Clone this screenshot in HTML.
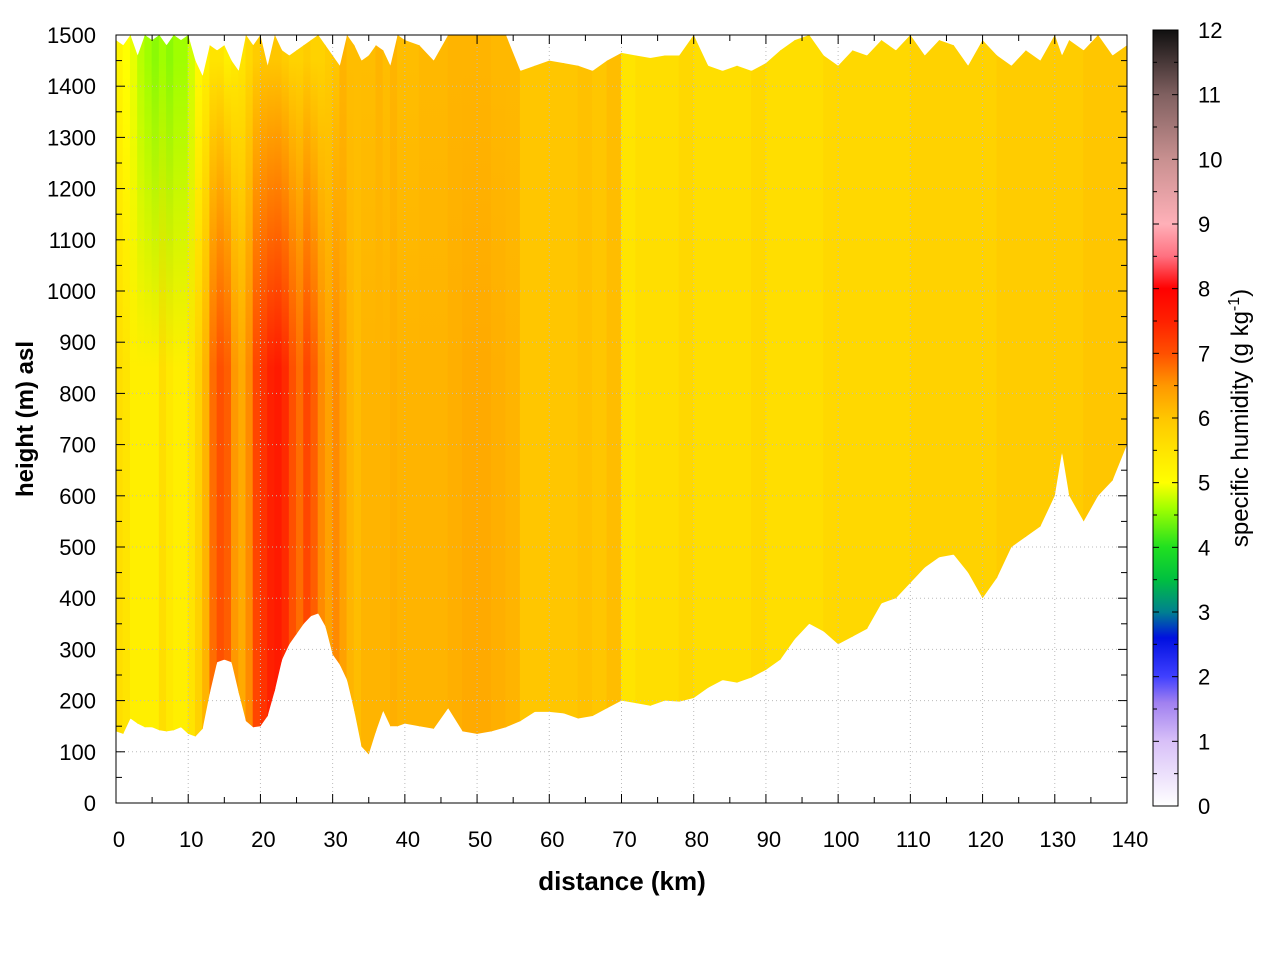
<!DOCTYPE html>
<html><head><meta charset="utf-8"><style>
body{margin:0;background:#fff}
svg text{font-family:"Liberation Sans",sans-serif;fill:#000}
</style></head><body>
<svg id="c" width="1280" height="960" xmlns="http://www.w3.org/2000/svg"></svg>
<script>
// ---- data ----
const distKm=[0,1,2,3,4,5,6,7,8,9,10,11,12,13,14,15,16,17,18,19,20,21,22,23,24,25,26,27,28,29,30,31,32,33,34,35,36,37,38,39,40,42,44,46,48,50,52,54,56,58,60,62,64,66,68,70,72,74,76,78,80,82,84,86,88,90,92,94,96,98,100,102,104,106,108,110,112,114,116,118,120,122,124,126,128,130,131,132,134,136,138,140];
const groundM=[140,135,165,155,148,148,142,140,142,148,135,130,145,215,275,280,275,215,160,148,150,170,220,280,310,330,350,365,370,345,290,270,240,180,110,95,140,180,150,150,155,150,145,185,140,135,140,148,160,178,178,175,165,170,185,200,195,190,200,198,205,225,240,235,245,260,280,320,350,335,310,325,340,390,400,430,460,480,485,450,400,440,500,520,540,600,685,600,550,600,630,700];
const topM=[1490,1480,1500,1460,1500,1490,1500,1480,1500,1490,1500,1450,1420,1480,1470,1480,1450,1430,1500,1480,1500,1440,1500,1470,1460,1470,1480,1490,1500,1480,1460,1440,1500,1480,1450,1460,1480,1470,1440,1500,1490,1480,1450,1500,1500,1500,1500,1500,1430,1440,1450,1445,1440,1430,1450,1465,1460,1455,1460,1460,1500,1440,1430,1440,1430,1445,1470,1490,1500,1460,1440,1470,1460,1490,1470,1500,1460,1490,1480,1440,1490,1460,1440,1470,1450,1500,1460,1490,1470,1500,1460,1480];
const qMid=[5.6,5.5,5.3,5.3,5.3,5.3,5.6,5.4,5.3,5.3,5.5,5.8,6.2,6.8,7.0,6.9,6.5,6.3,6.6,7.1,7.3,7.5,7.6,7.4,7.0,6.8,7.1,6.9,6.6,6.4,6.6,6.4,6.2,6.1,6.2,6.2,6.2,6.2,6.25,6.2,6.2,6.2,6.2,6.25,6.3,6.3,6.25,6.2,6.0,6.0,6.0,6.0,6.05,6.0,6.1,5.5,5.6,5.6,5.6,5.7,5.6,5.6,5.6,5.6,5.7,5.6,5.6,5.6,5.6,5.7,5.7,5.7,5.7,5.7,5.7,5.8,5.8,5.8,5.8,5.8,5.8,5.9,5.9,5.9,5.9,5.9,5.9,5.9,6.0,6.0,6.0,6.0];
const qTop=[5.2,5.0,4.9,4.7,4.6,4.5,4.6,4.5,4.6,4.6,4.8,5.1,5.3,5.5,5.5,5.3,5.4,5.5,5.7,5.9,6.0,6.0,6.0,5.9,5.8,5.8,5.9,5.8,5.8,5.9,6.0,6.2,6.1,6.1,6.1,6.1,6.2,6.1,6.2,6.1,6.1,6.15,6.15,6.2,6.2,6.2,6.15,6.15,6.0,6.0,6.0,6.0,6.05,6.0,6.1,5.5,5.6,5.6,5.6,5.7,5.6,5.6,5.6,5.6,5.7,5.6,5.6,5.6,5.6,5.7,5.7,5.7,5.7,5.7,5.7,5.8,5.8,5.8,5.8,5.8,5.8,5.9,5.9,5.9,5.9,5.9,5.9,5.9,6.0,6.0,6.0,6.0];
const xTicks=[0,10,20,30,40,50,60,70,80,90,100,110,120,130,140];
const yTicks=[0,100,200,300,400,500,600,700,800,900,1000,1100,1200,1300,1400,1500];
const cbTicks=[0,1,2,3,4,5,6,7,8,9,10,11,12];
// colormap stops [value, color]
const cmap=[[0,'#ffffff'],[1,'#d8c0f8'],[1.6,'#a080f0'],[2,'#4040ff'],[2.6,'#0010e0'],[3,'#008090'],[3.5,'#00c040'],[4,'#20e020'],[4.6,'#a0ff00'],[5,'#ffff00'],[5.5,'#ffe400'],[6,'#ffc600'],[6.5,'#ff9800'],[7,'#ff5000'],[7.5,'#ff2000'],[8,'#ff0000'],[8.5,'#ff7080'],[9,'#ffb0b8'],[10,'#c89090'],[11,'#806060'],[12,'#101010']];
// ---- axes ----
const L=116,R=1127,T=35,B=803;
const xS=d=>L+(d/140)*(R-L);
const yS=m=>B-(m/1500)*(B-T);
const NS='http://www.w3.org/2000/svg';
const svg=document.getElementById('c');
function mk(tag,at,parent){const e=document.createElementNS(NS,tag);for(const k in at)e.setAttribute(k,at[k]);(parent||svg).appendChild(e);return e;}
function hex(c){return [1,3,5].map(i=>parseInt(c.substr(i,2),16));}
function col(v){v=Math.max(0,Math.min(12,v));for(let i=1;i<cmap.length;i++){if(v<=cmap[i][0]){const a=cmap[i-1],b=cmap[i];const t=(v-a[0])/(b[0]-a[0]);const ca=hex(a[1]),cb=hex(b[1]);return 'rgb('+ca.map((x,j)=>Math.round(x+(cb[j]-x)*t)).join(',')+')';}}return cmap[cmap.length-1][1];}
const defs=mk('defs',{});
let pts=[];
distKm.forEach((d,i)=>pts.push(xS(d)+','+yS(topM[i])));
for(let i=distKm.length-1;i>=0;i--)pts.push(xS(distKm[i])+','+yS(groundM[i]));
const cp=mk('clipPath',{id:'cp'},defs);
mk('polygon',{points:pts.join(' ')},cp);
const field=mk('g',{'clip-path':'url(#cp)'});


distKm.forEach((d,i)=>{
  const g=mk('linearGradient',{id:'g'+i,x1:0,y1:0,x2:0,y2:1,gradientUnits:'userSpaceOnUse'},defs);
  g.setAttribute('y1',yS(1450));g.setAttribute('y2',yS(850));
  mk('stop',{offset:0,'stop-color':col(qTop[i])},g);
  mk('stop',{offset:1,'stop-color':col(qMid[i])},g);
  const x0=xS(d),x1=i<distKm.length-1?xS(distKm[i+1]):R;
  const r=mk('rect',{x:x0-0.5,y:T,width:Math.max(1,x1-x0+1),height:B-T,fill:'url(#g'+i+')'},field);
  
  
});
xTicks.forEach(t=>{const l=mk('line',{x1:xS(t),x2:xS(t),y1:T,y2:B,stroke:'#bbb','stroke-dasharray':'1,3','stroke-width':1});});
yTicks.forEach(t=>{const l=mk('line',{x1:L,x2:R,y1:yS(t),y2:yS(t),stroke:'#bbb','stroke-dasharray':'1,3','stroke-width':1});});
const fr=mk('rect',{x:L,y:T,width:R-L,height:B-T,fill:'none',stroke:'#000','stroke-width':1});

for(let d=0;d<=140;d+=5){const len=d%10?6:9;mk('line',{x1:xS(d),x2:xS(d),y1:B,y2:B-len,stroke:'#000'});mk('line',{x1:xS(d),x2:xS(d),y1:T,y2:T+len,stroke:'#000'});}
for(let m=0;m<=1500;m+=50){const len=m%100?6:9;mk('line',{x1:L,x2:L+len,y1:yS(m),y2:yS(m),stroke:'#000'});mk('line',{x1:R,x2:R-len,y1:yS(m),y2:yS(m),stroke:'#000'});}
xTicks.forEach(t=>{const e=mk('text',{x:xS(t)+3,y:B+44,'font-size':22,'text-anchor':'middle'});e.textContent=t;});
yTicks.forEach(t=>{const e=mk('text',{x:L-20,y:yS(t)+8,'font-size':22,'text-anchor':'end'});e.textContent=t;});
let e=mk('text',{x:622,y:890,'font-size':26,'font-weight':'bold','text-anchor':'middle'});e.textContent='distance (km)';

e=mk('text',{x:0,y:0,'font-size':24,'font-weight':'bold','text-anchor':'middle',transform:'translate(33,419) rotate(-90)'});e.textContent='height (m) asl';

const CL=1153,CR=1178,CT=30,CB=806;
const cg=mk('linearGradient',{id:'cb',x1:0,y1:1,x2:0,y2:0},defs);
cmap.forEach(s=>mk('stop',{offset:s[0]/12,'stop-color':s[1]},cg));
const cbr=mk('rect',{x:CL,y:CT,width:CR-CL,height:CB-CT,fill:'url(#cb)',stroke:'#000'});

cbTicks.forEach(t=>{const y=CB-(t/12)*(CB-CT);
  mk('line',{x1:CL,x2:CL+6,y1:y,y2:y,stroke:'#000'});mk('line',{x1:CR,x2:CR-6,y1:y,y2:y,stroke:'#000'});
  const e=mk('text',{x:1198,y:y+8,'font-size':22});e.textContent=t;});
for(let t=0.5;t<12;t+=1){const y=CB-(t/12)*(CB-CT);mk('line',{x1:CL,x2:CL+4,y1:y,y2:y,stroke:'#000'});mk('line',{x1:CR,x2:CR-4,y1:y,y2:y,stroke:'#000'});}
e=mk('text',{x:0,y:0,'font-size':24,'text-anchor':'middle',transform:'translate(1248,418) rotate(-90)'});
e.innerHTML='specific humidity (g kg<tspan dy="-9" font-size="16">-1</tspan><tspan dy="9">)</tspan>';

</script>
</body></html>
